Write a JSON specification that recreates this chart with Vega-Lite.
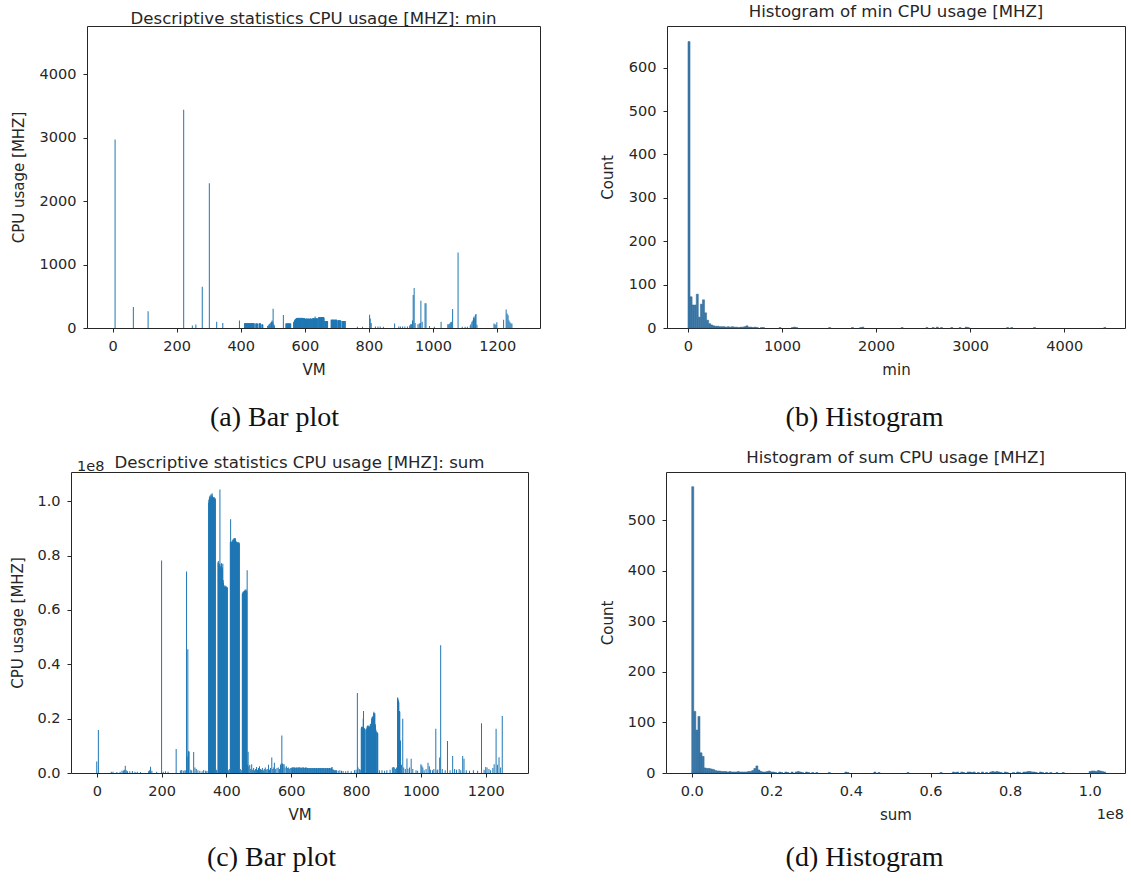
{
  "$schema": "https://vega.github.io/schema/vega-lite/v6.json",
  "background": "white",
  "padding": {"left": 10, "top": 3, "right": 2, "bottom": 2},
  "config": {
    "font": "DejaVu Sans",
    "view": {"stroke": "#262626", "strokeWidth": 1},
    "axis": {
      "domain": false, "grid": false, "tickColor": "#262626", "tickSize": 4, "tickWidth": 1,
      "labelFont": "DejaVu Sans", "labelFontSize": 14.5, "labelColor": "#262626", "labelPadding": 7,
      "titleFont": "DejaVu Sans", "titleFontSize": 15, "titleFontWeight": "normal", "titleColor": "#262626",
      "labelOverlap": false, "labelFlush": false
    },
    "title": {"font": "DejaVu Sans", "fontSize": 16.6, "fontWeight": "normal", "color": "#262626", "anchor": "middle", "frame": "group"}
  },
  "datasets": {
    "amin": [
      {"vm":8,"v":2970},{"vm":65,"v":330},{"vm":111,"v":265},{"vm":222,"v":3440},{"vm":249,"v":40},{"vm":260,"v":55},{"vm":280,"v":650},{"vm":302,"v":2280},{"vm":325,"v":100},{"vm":344,"v":80},{"vm":396,"v":120},
      {"vm":412,"v":75},{"vm":413,"v":74},{"vm":414,"v":76},{"vm":415,"v":75},{"vm":416,"v":73},{"vm":417,"v":75},{"vm":418,"v":76},{"vm":419,"v":74},{"vm":420,"v":75},{"vm":421,"v":75},{"vm":422,"v":72},{"vm":423,"v":75},{"vm":424,"v":76},{"vm":425,"v":75},{"vm":426,"v":74},{"vm":427,"v":75},{"vm":428,"v":75},{"vm":429,"v":73},{"vm":430,"v":76},{"vm":431,"v":75},{"vm":432,"v":74},{"vm":433,"v":75},{"vm":434,"v":75},{"vm":435,"v":76},{"vm":436,"v":74},{"vm":437,"v":75},{"vm":438,"v":73},{"vm":439,"v":75},{"vm":440,"v":76},{"vm":441,"v":75},{"vm":442,"v":74},
      {"vm":447,"v":70},{"vm":448,"v":70},{"vm":449,"v":72},{"vm":450,"v":70},{"vm":451,"v":68},{"vm":452,"v":70},
      {"vm":457,"v":72},{"vm":458,"v":72},{"vm":459,"v":74},{"vm":460,"v":72},{"vm":461,"v":70},{"vm":462,"v":72},
      {"vm":466,"v":55},{"vm":467,"v":58},{"vm":468,"v":55},{"vm":469,"v":52},
      {"vm":484,"v":30},{"vm":486,"v":40},{"vm":488,"v":55},{"vm":490,"v":60},{"vm":492,"v":75},{"vm":494,"v":85},{"vm":496,"v":100},{"vm":498,"v":120},{"vm":500,"v":95},{"vm":501,"v":305},{"vm":503,"v":60},{"vm":505,"v":40},
      {"vm":533,"v":205},
      {"vm":541,"v":70},{"vm":542,"v":70},{"vm":543,"v":72},{"vm":544,"v":70},{"vm":545,"v":68},{"vm":546,"v":70},{"vm":547,"v":70},{"vm":548,"v":72},{"vm":549,"v":70},{"vm":550,"v":70},{"vm":551,"v":68},{"vm":552,"v":70},{"vm":553,"v":72},{"vm":554,"v":70},{"vm":555,"v":70},{"vm":556,"v":68},
      {"vm":565,"v":90},{"vm":566,"v":95},{"vm":567,"v":110},{"vm":568,"v":120},{"vm":569,"v":130},{"vm":570,"v":135},{"vm":571,"v":140},{"vm":572,"v":145},
      {"vm":573,"v":150},{"vm":574,"v":155},{"vm":575,"v":158},{"vm":576,"v":152},{"vm":577,"v":150},{"vm":578,"v":160},{"vm":579,"v":155},{"vm":580,"v":150},{"vm":581,"v":158},{"vm":582,"v":162},{"vm":583,"v":155},{"vm":584,"v":150},{"vm":585,"v":148},{"vm":586,"v":155},{"vm":587,"v":160},{"vm":588,"v":158},{"vm":589,"v":150},{"vm":590,"v":152},{"vm":591,"v":155},{"vm":592,"v":160},{"vm":593,"v":150},{"vm":594,"v":148},{"vm":595,"v":152},{"vm":596,"v":155},{"vm":597,"v":158},{"vm":598,"v":150},{"vm":599,"v":155},{"vm":600,"v":150},
      {"vm":602,"v":145},{"vm":603,"v":142},{"vm":604,"v":145},{"vm":605,"v":148},{"vm":606,"v":145},{"vm":607,"v":140},{"vm":608,"v":145},{"vm":609,"v":145},{"vm":610,"v":148},{"vm":611,"v":145},{"vm":612,"v":142},{"vm":613,"v":145},{"vm":614,"v":145},{"vm":615,"v":140},{"vm":616,"v":145},{"vm":617,"v":148},{"vm":618,"v":145},{"vm":619,"v":145},{"vm":620,"v":142},{"vm":621,"v":145},{"vm":622,"v":145},
      {"vm":624,"v":150},{"vm":625,"v":150},{"vm":626,"v":152},{"vm":627,"v":148},{"vm":628,"v":150},{"vm":629,"v":150},{"vm":630,"v":155},{"vm":631,"v":150},{"vm":632,"v":180},{"vm":633,"v":150},{"vm":634,"v":148},{"vm":635,"v":150},{"vm":636,"v":152},{"vm":637,"v":150},{"vm":638,"v":150},{"vm":639,"v":148},{"vm":640,"v":150},
      {"vm":643,"v":170},{"vm":644,"v":165},{"vm":645,"v":172},{"vm":646,"v":168},{"vm":647,"v":175},{"vm":648,"v":170},{"vm":649,"v":165},{"vm":650,"v":170},{"vm":651,"v":168},{"vm":652,"v":172},{"vm":653,"v":170},{"vm":654,"v":165},{"vm":655,"v":170},{"vm":656,"v":172},{"vm":657,"v":168},{"vm":658,"v":170},{"vm":659,"v":165},{"vm":660,"v":160},
      {"vm":662,"v":110},{"vm":663,"v":112},{"vm":664,"v":110},{"vm":665,"v":108},{"vm":666,"v":110},{"vm":667,"v":112},{"vm":668,"v":110},{"vm":669,"v":110},{"vm":670,"v":108},{"vm":671,"v":110},
      {"vm":682,"v":130},{"vm":683,"v":130},{"vm":684,"v":132},{"vm":685,"v":128},{"vm":686,"v":130},{"vm":687,"v":130},{"vm":688,"v":132},{"vm":689,"v":130},{"vm":690,"v":128},{"vm":691,"v":130},{"vm":692,"v":130},{"vm":693,"v":132},{"vm":694,"v":130},{"vm":695,"v":128},{"vm":696,"v":130},{"vm":697,"v":130},{"vm":698,"v":132},{"vm":699,"v":130},{"vm":700,"v":128},
      {"vm":703,"v":120},{"vm":704,"v":120},{"vm":705,"v":122},{"vm":706,"v":118},{"vm":707,"v":120},{"vm":708,"v":120},{"vm":709,"v":122},{"vm":710,"v":120},{"vm":711,"v":118},{"vm":712,"v":120},
      {"vm":716,"v":110},{"vm":717,"v":110},{"vm":718,"v":112},{"vm":719,"v":108},{"vm":720,"v":110},{"vm":721,"v":110},{"vm":722,"v":112},{"vm":723,"v":110},{"vm":724,"v":108},{"vm":725,"v":110},{"vm":726,"v":110},
      {"vm":764,"v":20},{"vm":780,"v":20},{"vm":802,"v":210},{"vm":804,"v":150},{"vm":807,"v":80},{"vm":820,"v":25},{"vm":828,"v":25},{"vm":835,"v":25},{"vm":845,"v":20},
      {"vm":880,"v":70},{"vm":893,"v":25},{"vm":898,"v":25},{"vm":905,"v":25},{"vm":912,"v":25},{"vm":920,"v":25},{"vm":927,"v":40},{"vm":930,"v":60},{"vm":933,"v":60},{"vm":936,"v":120},{"vm":938,"v":520},{"vm":941,"v":630},{"vm":944,"v":80},
      {"vm":953,"v":60},{"vm":957,"v":70},{"vm":960,"v":80},{"vm":962,"v":430},{"vm":966,"v":100},{"vm":975,"v":390},{"vm":978,"v":390},{"vm":989,"v":30},{"vm":1004,"v":20},{"vm":1025,"v":100},
      {"vm":1046,"v":60},{"vm":1049,"v":60},{"vm":1052,"v":70},{"vm":1055,"v":90},{"vm":1058,"v":100},{"vm":1061,"v":300},{"vm":1078,"v":1190},{"vm":1091,"v":20},{"vm":1100,"v":20},{"vm":1107,"v":20},
      {"vm":1116,"v":40},{"vm":1118,"v":60},{"vm":1121,"v":100},{"vm":1124,"v":120},{"vm":1126,"v":160},{"vm":1128,"v":180},{"vm":1130,"v":150},{"vm":1132,"v":210},{"vm":1134,"v":220},{"vm":1137,"v":50},
      {"vm":1190,"v":70},{"vm":1193,"v":60},{"vm":1196,"v":50},{"vm":1199,"v":90},{"vm":1220,"v":130},{"vm":1228,"v":290},{"vm":1231,"v":230},{"vm":1234,"v":200},{"vm":1237,"v":120},{"vm":1240,"v":90},{"vm":1243,"v":70},{"vm":1246,"v":70}
    ],
    "csum": [
      {"vm":0,"v":4200000},{"vm":5,"v":15800000},{"vm":45,"v":500000},{"vm":50,"v":500000},{"vm":62,"v":400000},{"vm":72,"v":500000},{"vm":78,"v":800000},{"vm":82,"v":900000},{"vm":85,"v":1200000},{"vm":88,"v":2700000},{"vm":91,"v":1000000},{"vm":95,"v":600000},{"vm":102,"v":600000},{"vm":110,"v":700000},{"vm":118,"v":500000},{"vm":125,"v":500000},{"vm":135,"v":400000},{"vm":160,"v":600000},{"vm":163,"v":1000000},{"vm":166,"v":2300000},{"vm":170,"v":800000},{"vm":185,"v":500000},
      {"vm":200,"v":78200000},{"vm":205,"v":500000},{"vm":212,"v":600000},{"vm":220,"v":500000},{"vm":245,"v":8800000},{"vm":258,"v":900000},{"vm":262,"v":1100000},{"vm":267,"v":800000},{"vm":272,"v":1000000},{"vm":275,"v":900000},{"vm":277,"v":74200000},{"vm":279,"v":6000000},{"vm":281,"v":45500000},{"vm":283,"v":8000000},{"vm":285,"v":7900000},{"vm":290,"v":1200000},{"vm":293,"v":900000},{"vm":299,"v":7700000},{"vm":303,"v":2000000},{"vm":307,"v":1500000},{"vm":312,"v":1000000},{"vm":318,"v":800000},{"vm":325,"v":600000},{"vm":330,"v":1100000},{"vm":336,"v":800000},{"vm":340,"v":700000},
      {"vm":345,"v":99500000},{"vm":346,"v":100500000},{"vm":347,"v":101000000},{"vm":348,"v":101500000},{"vm":349,"v":102000000},{"vm":350,"v":101500000},{"vm":351,"v":101000000},{"vm":352,"v":102500000},{"vm":353,"v":102000000},{"vm":354,"v":101500000},{"vm":355,"v":102500000},{"vm":356,"v":103000000},{"vm":357,"v":102000000},{"vm":358,"v":101000000},{"vm":359,"v":101500000},{"vm":360,"v":101500000},{"vm":361,"v":100500000},{"vm":362,"v":101000000},{"vm":363,"v":101500000},{"vm":364,"v":101000000},{"vm":365,"v":100500000},{"vm":366,"v":101000000},
      {"vm":369,"v":1200000},{"vm":371,"v":800000},
      {"vm":374,"v":77500000},{"vm":375,"v":78000000},{"vm":376,"v":77000000},{"vm":377,"v":76000000},{"vm":378,"v":76500000},{"vm":379,"v":77000000},{"vm":380,"v":104300000},{"vm":381,"v":76000000},{"vm":382,"v":75500000},{"vm":383,"v":76000000},{"vm":384,"v":77000000},{"vm":385,"v":77200000},{"vm":386,"v":76000000},{"vm":387,"v":75500000},{"vm":388,"v":75000000},{"vm":389,"v":77000000},{"vm":390,"v":71000000},{"vm":391,"v":70000000},{"vm":392,"v":69000000},{"vm":393,"v":69000000},{"vm":394,"v":68500000},{"vm":395,"v":68500000},{"vm":396,"v":69000000},{"vm":397,"v":68500000},{"vm":398,"v":68500000},{"vm":399,"v":68800000},{"vm":400,"v":68500000},{"vm":401,"v":68000000},{"vm":402,"v":68500000},{"vm":403,"v":68200000},
      {"vm":406,"v":1000000},{"vm":409,"v":1500000},
      {"vm":412,"v":85000000},{"vm":413,"v":93400000},{"vm":414,"v":84500000},{"vm":415,"v":85000000},{"vm":416,"v":84800000},{"vm":417,"v":85200000},{"vm":418,"v":85500000},{"vm":419,"v":85000000},{"vm":420,"v":85800000},{"vm":421,"v":86000000},{"vm":422,"v":85500000},{"vm":423,"v":86200000},{"vm":424,"v":86500000},{"vm":425,"v":86000000},{"vm":426,"v":86300000},{"vm":427,"v":86500000},{"vm":428,"v":86000000},{"vm":429,"v":85500000},{"vm":430,"v":85200000},{"vm":431,"v":85000000},{"vm":432,"v":84800000},{"vm":433,"v":85000000},{"vm":434,"v":84500000},{"vm":435,"v":84800000},{"vm":436,"v":85000000},{"vm":437,"v":84500000},{"vm":438,"v":84700000},{"vm":439,"v":84800000},{"vm":440,"v":84500000},
      {"vm":443,"v":1500000},{"vm":446,"v":1000000},
      {"vm":449,"v":66000000},{"vm":450,"v":66200000},{"vm":451,"v":66500000},{"vm":452,"v":66800000},{"vm":453,"v":66500000},{"vm":454,"v":66800000},{"vm":455,"v":67000000},{"vm":456,"v":67200000},{"vm":457,"v":67000000},{"vm":458,"v":67500000},{"vm":459,"v":67200000},{"vm":460,"v":67000000},{"vm":461,"v":67500000},{"vm":462,"v":67000000},{"vm":463,"v":66800000},
      {"vm":464,"v":74600000},{"vm":465,"v":3000000},{"vm":467,"v":7800000},{"vm":469,"v":2500000},
      {"vm":472,"v":3000000},{"vm":475,"v":1500000},{"vm":478,"v":3200000},{"vm":481,"v":1200000},{"vm":484,"v":1800000},{"vm":487,"v":1000000},{"vm":490,"v":1500000},{"vm":493,"v":2200000},{"vm":496,"v":1200000},{"vm":499,"v":1800000},{"vm":502,"v":2500000},{"vm":505,"v":1500000},{"vm":508,"v":1200000},{"vm":511,"v":1800000},{"vm":514,"v":1000000},{"vm":517,"v":1500000},{"vm":520,"v":2000000},{"vm":523,"v":1200000},{"vm":526,"v":1500000},{"vm":530,"v":3000000},{"vm":533,"v":1200000},{"vm":536,"v":1800000},{"vm":540,"v":5700000},{"vm":543,"v":1500000},{"vm":546,"v":2000000},{"vm":548,"v":3800000},{"vm":552,"v":1500000},{"vm":556,"v":1800000},{"vm":560,"v":2000000},{"vm":564,"v":1500000},{"vm":567,"v":3000000},{"vm":569,"v":3500000},{"vm":571,"v":13800000},{"vm":573,"v":3500000},{"vm":575,"v":3200000},{"vm":578,"v":3200000},{"vm":581,"v":2000000},{"vm":585,"v":2500000},{"vm":588,"v":1800000},{"vm":591,"v":2000000},{"vm":594,"v":1500000},{"vm":597,"v":1800000},
      {"vm":600,"v":1800000},{"vm":602,"v":2000000},{"vm":604,"v":2000000},{"vm":606,"v":2100000},{"vm":608,"v":1900000},{"vm":610,"v":2000000},{"vm":612,"v":2000000},{"vm":614,"v":1800000},{"vm":616,"v":2000000},{"vm":618,"v":2000000},{"vm":620,"v":1900000},{"vm":622,"v":2000000},{"vm":624,"v":2100000},{"vm":626,"v":2000000},{"vm":628,"v":2000000},{"vm":630,"v":1800000},{"vm":632,"v":1900000},{"vm":634,"v":2000000},{"vm":636,"v":2000000},{"vm":638,"v":2000000},{"vm":640,"v":1900000},{"vm":642,"v":1800000},{"vm":644,"v":2000000},{"vm":646,"v":2000000},{"vm":648,"v":1900000},{"vm":650,"v":1800000},{"vm":652,"v":1700000},{"vm":654,"v":1800000},{"vm":656,"v":1800000},{"vm":658,"v":1700000},{"vm":660,"v":1800000},{"vm":662,"v":1800000},{"vm":664,"v":1700000},{"vm":666,"v":1800000},{"vm":668,"v":1800000},{"vm":670,"v":1700000},{"vm":672,"v":1800000},{"vm":674,"v":1800000},{"vm":676,"v":1700000},{"vm":678,"v":1800000},{"vm":680,"v":1800000},{"vm":682,"v":1700000},{"vm":684,"v":1800000},{"vm":686,"v":1800000},{"vm":688,"v":1800000},{"vm":690,"v":1800000},{"vm":692,"v":1700000},{"vm":694,"v":1800000},{"vm":696,"v":1800000},{"vm":698,"v":1800000},{"vm":700,"v":1800000},{"vm":702,"v":1700000},{"vm":704,"v":1800000},{"vm":706,"v":1800000},{"vm":708,"v":1700000},{"vm":710,"v":1800000},{"vm":712,"v":1800000},{"vm":714,"v":1800000},{"vm":716,"v":1700000},{"vm":718,"v":1800000},{"vm":720,"v":1800000},{"vm":722,"v":1700000},{"vm":724,"v":2000000},{"vm":726,"v":2200000},{"vm":728,"v":1500000},{"vm":730,"v":1200000},{"vm":732,"v":1000000},{"vm":734,"v":1000000},{"vm":736,"v":1000000},{"vm":738,"v":900000},{"vm":740,"v":1000000},
      {"vm":745,"v":800000},{"vm":750,"v":1000000},{"vm":755,"v":800000},{"vm":760,"v":700000},{"vm":768,"v":600000},{"vm":775,"v":800000},{"vm":785,"v":600000},{"vm":795,"v":1000000},{"vm":800,"v":1200000},
      {"vm":804,"v":29400000},{"vm":806,"v":2000000},{"vm":810,"v":1500000},{"vm":813,"v":1200000},
      {"vm":816,"v":16500000},{"vm":817,"v":17000000},{"vm":818,"v":16500000},{"vm":819,"v":16000000},{"vm":820,"v":17000000},{"vm":821,"v":16500000},{"vm":822,"v":20000000},{"vm":823,"v":22800000},{"vm":824,"v":16500000},{"vm":825,"v":16000000},{"vm":826,"v":16500000},{"vm":827,"v":16200000},{"vm":828,"v":16000000},
      {"vm":832,"v":16000000},{"vm":833,"v":16500000},{"vm":834,"v":17000000},{"vm":835,"v":17500000},{"vm":836,"v":17000000},{"vm":837,"v":16500000},{"vm":838,"v":17000000},{"vm":839,"v":17500000},{"vm":840,"v":17000000},{"vm":841,"v":16800000},{"vm":842,"v":17200000},{"vm":843,"v":17000000},{"vm":844,"v":18000000},{"vm":845,"v":17500000},{"vm":846,"v":18000000},{"vm":847,"v":18500000},
      {"vm":848,"v":20000000},{"vm":849,"v":20500000},{"vm":850,"v":20000000},{"vm":851,"v":20500000},{"vm":852,"v":21000000},{"vm":853,"v":20500000},{"vm":854,"v":22000000},{"vm":855,"v":22500000},{"vm":856,"v":22000000},{"vm":857,"v":21500000},{"vm":858,"v":22000000},
      {"vm":859,"v":18000000},{"vm":860,"v":17500000},{"vm":861,"v":16000000},{"vm":862,"v":15500000},
      {"vm":864,"v":14800000},{"vm":865,"v":15000000},{"vm":866,"v":14800000},{"vm":867,"v":14500000},
      {"vm":872,"v":1000000},{"vm":880,"v":1000000},{"vm":888,"v":800000},{"vm":895,"v":1000000},{"vm":905,"v":1200000},{"vm":912,"v":2000000},{"vm":915,"v":2200000},{"vm":918,"v":2000000},{"vm":922,"v":1500000},{"vm":925,"v":2000000},
      {"vm":928,"v":27800000},{"vm":929,"v":27500000},{"vm":930,"v":27000000},{"vm":931,"v":26500000},{"vm":932,"v":26000000},{"vm":933,"v":22500000},{"vm":934,"v":22800000},{"vm":935,"v":22500000},{"vm":937,"v":12000000},{"vm":940,"v":3000000},{"vm":944,"v":20000000},{"vm":947,"v":2000000},
      {"vm":952,"v":1500000},{"vm":957,"v":5300000},{"vm":960,"v":1600000},{"vm":965,"v":2000000},{"vm":970,"v":5200000},{"vm":975,"v":1500000},{"vm":985,"v":1000000},{"vm":990,"v":800000},
      {"vm":1000,"v":3200000},{"vm":1003,"v":2800000},{"vm":1006,"v":2000000},{"vm":1010,"v":1000000},{"vm":1016,"v":1500000},{"vm":1022,"v":3800000},{"vm":1026,"v":2500000},{"vm":1030,"v":1200000},{"vm":1036,"v":1000000},{"vm":1040,"v":1500000},{"vm":1046,"v":16300000},{"vm":1050,"v":1000000},{"vm":1052,"v":1300000},{"vm":1058,"v":5700000},{"vm":1061,"v":47000000},{"vm":1066,"v":1500000},{"vm":1075,"v":1000000},{"vm":1082,"v":11800000},{"vm":1090,"v":1000000},{"vm":1098,"v":6300000},{"vm":1104,"v":1500000},{"vm":1110,"v":1200000},{"vm":1118,"v":1500000},{"vm":1123,"v":1000000},{"vm":1129,"v":6300000},{"vm":1133,"v":5200000},{"vm":1140,"v":1000000},{"vm":1150,"v":800000},{"vm":1162,"v":1000000},{"vm":1175,"v":800000},{"vm":1187,"v":18300000},{"vm":1195,"v":1200000},{"vm":1200,"v":2200000},{"vm":1204,"v":2000000},{"vm":1210,"v":1500000},{"vm":1215,"v":1000000},{"vm":1222,"v":1800000},{"vm":1226,"v":3200000},{"vm":1232,"v":16300000},{"vm":1236,"v":3000000},{"vm":1241,"v":5800000},{"vm":1246,"v":2000000},{"vm":1251,"v":21000000}
    ],
    "minhist": [
      {"lo":0,"hi":22,"n":660},{"lo":22,"hi":44,"n":72},{"lo":44,"hi":66,"n":53},{"lo":66,"hi":88,"n":53},{"lo":88,"hi":110,"n":78},{"lo":110,"hi":132,"n":25},{"lo":132,"hi":154,"n":55},{"lo":154,"hi":176,"n":65},{"lo":176,"hi":198,"n":35},{"lo":198,"hi":220,"n":18},
      {"lo":220,"hi":242,"n":10},{"lo":242,"hi":264,"n":7},{"lo":264,"hi":286,"n":5},{"lo":286,"hi":308,"n":4},{"lo":308,"hi":330,"n":4},{"lo":330,"hi":352,"n":3},{"lo":352,"hi":374,"n":3},{"lo":374,"hi":396,"n":3},{"lo":396,"hi":418,"n":2},{"lo":418,"hi":440,"n":3},
      {"lo":440,"hi":462,"n":2},{"lo":462,"hi":484,"n":3},{"lo":484,"hi":506,"n":2},{"lo":506,"hi":528,"n":2},{"lo":528,"hi":550,"n":1},{"lo":550,"hi":572,"n":2},{"lo":572,"hi":594,"n":2},{"lo":594,"hi":616,"n":3},{"lo":616,"hi":638,"n":5},{"lo":638,"hi":660,"n":2},
      {"lo":660,"hi":682,"n":2},{"lo":682,"hi":704,"n":1},{"lo":704,"hi":726,"n":2},{"lo":726,"hi":748,"n":1},{"lo":770,"hi":792,"n":1},{"lo":792,"hi":814,"n":1},{"lo":968,"hi":990,"n":1},{"lo":1100,"hi":1122,"n":1},{"lo":1122,"hi":1144,"n":2},{"lo":1144,"hi":1166,"n":1},
      {"lo":1496,"hi":1518,"n":1},{"lo":1738,"hi":1760,"n":1},{"lo":1826,"hi":1848,"n":1},{"lo":1848,"hi":1870,"n":2},{"lo":2266,"hi":2288,"n":1},{"lo":2530,"hi":2552,"n":1},{"lo":2596,"hi":2618,"n":1},{"lo":2640,"hi":2662,"n":2},{"lo":2684,"hi":2706,"n":1},{"lo":2794,"hi":2816,"n":1},
      {"lo":2882,"hi":2904,"n":1},{"lo":2948,"hi":2970,"n":2},{"lo":2970,"hi":2992,"n":1},{"lo":3388,"hi":3410,"n":1},{"lo":3432,"hi":3454,"n":1},{"lo":3674,"hi":3696,"n":1},{"lo":4422,"hi":4444,"n":1}
    ],
    "sumhist": [
      {"lo":0,"hi":520000,"n":567},{"lo":520000,"hi":1040000,"n":122},{"lo":1040000,"hi":1560000,"n":85},{"lo":1560000,"hi":2080000,"n":112},{"lo":2080000,"hi":2600000,"n":40},{"lo":2600000,"hi":3120000,"n":33},{"lo":3120000,"hi":3640000,"n":10},{"lo":3640000,"hi":4160000,"n":9},{"lo":4160000,"hi":4680000,"n":9},{"lo":4680000,"hi":5200000,"n":8},
      {"lo":5200000,"hi":5720000,"n":7},{"lo":5720000,"hi":6240000,"n":5},{"lo":6240000,"hi":6760000,"n":4},{"lo":6760000,"hi":7280000,"n":4},{"lo":7280000,"hi":7800000,"n":3},{"lo":7800000,"hi":8320000,"n":3},{"lo":8320000,"hi":8840000,"n":3},{"lo":8840000,"hi":9360000,"n":2},{"lo":9360000,"hi":9880000,"n":3},{"lo":9880000,"hi":10400000,"n":2},
      {"lo":10400000,"hi":10920000,"n":2},{"lo":10920000,"hi":11440000,"n":2},{"lo":11440000,"hi":11960000,"n":3},{"lo":11960000,"hi":12480000,"n":2},{"lo":12480000,"hi":13000000,"n":2},{"lo":13000000,"hi":13520000,"n":2},{"lo":13520000,"hi":14040000,"n":2},{"lo":14040000,"hi":14560000,"n":3},{"lo":14560000,"hi":15080000,"n":3},{"lo":15080000,"hi":15600000,"n":5},
      {"lo":15600000,"hi":16120000,"n":9},{"lo":16120000,"hi":16640000,"n":14},{"lo":16640000,"hi":17160000,"n":6},{"lo":17160000,"hi":17680000,"n":3},{"lo":17680000,"hi":18200000,"n":2},{"lo":18200000,"hi":18720000,"n":2},{"lo":18720000,"hi":19240000,"n":3},{"lo":19240000,"hi":19760000,"n":4},{"lo":19760000,"hi":20280000,"n":2},{"lo":20280000,"hi":20800000,"n":2},
      {"lo":20800000,"hi":21320000,"n":1},{"lo":21840000,"hi":22360000,"n":2},{"lo":22360000,"hi":22880000,"n":1},{"lo":23400000,"hi":23920000,"n":2},{"lo":23920000,"hi":24440000,"n":1},{"lo":24960000,"hi":25480000,"n":2},{"lo":26000000,"hi":26520000,"n":2},{"lo":26520000,"hi":27040000,"n":3},{"lo":27040000,"hi":27560000,"n":2},{"lo":27560000,"hi":28080000,"n":1},
      {"lo":28600000,"hi":29120000,"n":2},{"lo":29120000,"hi":29640000,"n":1},{"lo":30160000,"hi":30680000,"n":1},{"lo":31200000,"hi":31720000,"n":1},{"lo":34320000,"hi":34840000,"n":1},{"lo":38480000,"hi":39000000,"n":2},{"lo":39000000,"hi":39520000,"n":1},{"lo":45760000,"hi":46280000,"n":2},{"lo":46800000,"hi":47320000,"n":1},{"lo":54080000,"hi":54600000,"n":1},
      {"lo":62400000,"hi":62920000,"n":1},{"lo":65520000,"hi":66040000,"n":2},{"lo":66040000,"hi":66560000,"n":1},{"lo":66560000,"hi":67080000,"n":2},{"lo":67600000,"hi":68120000,"n":2},{"lo":68120000,"hi":68640000,"n":1},{"lo":69160000,"hi":69680000,"n":2},{"lo":69680000,"hi":70200000,"n":2},{"lo":70200000,"hi":70720000,"n":1},{"lo":70720000,"hi":71240000,"n":2},
      {"lo":71760000,"hi":72280000,"n":1},{"lo":72800000,"hi":73320000,"n":2},{"lo":73840000,"hi":74360000,"n":1},{"lo":74880000,"hi":75400000,"n":2},{"lo":75400000,"hi":75920000,"n":3},{"lo":75920000,"hi":76440000,"n":2},{"lo":76440000,"hi":76960000,"n":3},{"lo":76960000,"hi":77480000,"n":2},{"lo":77480000,"hi":78000000,"n":1},{"lo":78520000,"hi":79040000,"n":2},
      {"lo":79040000,"hi":79560000,"n":1},{"lo":80600000,"hi":81120000,"n":1},{"lo":81640000,"hi":82160000,"n":2},{"lo":82160000,"hi":82680000,"n":1},{"lo":83200000,"hi":83720000,"n":2},{"lo":83720000,"hi":84240000,"n":2},{"lo":84240000,"hi":84760000,"n":3},{"lo":84760000,"hi":85280000,"n":3},{"lo":85280000,"hi":85800000,"n":2},{"lo":85800000,"hi":86320000,"n":2},
      {"lo":86320000,"hi":86840000,"n":1},{"lo":87360000,"hi":87880000,"n":2},{"lo":87880000,"hi":88400000,"n":1},{"lo":88920000,"hi":89440000,"n":1},{"lo":89960000,"hi":90480000,"n":1},{"lo":91520000,"hi":92040000,"n":1},{"lo":93080000,"hi":93600000,"n":1},
      {"lo":99840000,"hi":100360000,"n":3},{"lo":100360000,"hi":100880000,"n":4},{"lo":100880000,"hi":101400000,"n":4},{"lo":101400000,"hi":101920000,"n":3},{"lo":101920000,"hi":102440000,"n":5},{"lo":102440000,"hi":102960000,"n":4},{"lo":102960000,"hi":103480000,"n":3},{"lo":103480000,"hi":104000000,"n":2}
    ]
  },
  "spacing": 17,
  "vconcat": [
    {
      "bounds": "flush",
      "spacing": 5,
      "hconcat": [
        {"width": 11, "height": 10, "view": {"stroke": null}, "data": {"values": []}, "mark": "point", "encoding": {}},
        {
          "width": 453, "height": 302,
          "title": {"text": "Descriptive statistics CPU usage [MHZ]: min", "offset": -2},
          "resolve": {"axis": {"x": "independent"}},
          "layer": [
            {
              "data": {"name": "amin"},
              "mark": {"type": "bar", "width": 1, "color": "#1f77b4"},
              "encoding": {
                "x": {"field": "vm", "type": "quantitative", "scale": {"domain": [-64, 1318], "nice": false, "zero": false},
                      "axis": {"orient": "bottom", "title": "VM", "format": "d", "values": [0, 200, 400, 600, 800, 1000, 1200], "titlePadding": 10}},
                "y": {"field": "v", "type": "quantitative", "scale": {"domain": [0, 4761], "nice": false},
                      "axis": {"title": "CPU usage [MHZ]", "format": "d", "values": [0, 1000, 2000, 3000, 4000], "titlePadding": 13}}
              }
            },
            {
              "data": {"values": []},
              "mark": "point",
              "encoding": {
                "x": {"field": "vm", "type": "quantitative",
                      "axis": {"orient": "bottom", "offset": 75, "domain": false, "ticks": false, "labels": false, "title": "(a) Bar plot",
                               "titleFont": "Liberation Serif", "titleFontSize": 28, "titleColor": "#111111", "titlePadding": 0, "titleX": 187, "titleAlign": "center", "titleBaseline": "top"}}
              }
            }
          ]
        },
        {"width": 117, "height": 10, "view": {"stroke": null}, "data": {"values": []}, "mark": "point", "encoding": {}},
        {
          "width": 458, "height": 302,
          "title": {"text": "Histogram of min CPU usage [MHZ]", "offset": 5},
          "resolve": {"axis": {"x": "independent"}},
          "layer": [
            {
              "data": {"name": "minhist"},
              "mark": {"type": "bar", "color": "#3b78a8", "stroke": "#2f6a99", "strokeWidth": 0.5},
              "encoding": {
                "x": {"field": "lo", "type": "quantitative", "scale": {"domain": [-223, 4647], "nice": false, "zero": false},
                      "axis": {"orient": "bottom", "title": "min", "format": "d", "values": [0, 1000, 2000, 3000, 4000], "titlePadding": 10}},
                "x2": {"field": "hi"},
                "y": {"field": "n", "type": "quantitative", "scale": {"domain": [0, 696], "nice": false},
                      "axis": {"title": "Count", "format": "d", "values": [0, 100, 200, 300, 400, 500, 600], "titlePadding": 13}},
                "y2": {"datum": 0}
              }
            },
            {
              "data": {"values": []},
              "mark": "point",
              "encoding": {
                "x": {"field": "lo", "type": "quantitative",
                      "axis": {"orient": "bottom", "offset": 75, "domain": false, "ticks": false, "labels": false, "title": "(b) Histogram",
                               "titleFont": "Liberation Serif", "titleFontSize": 28, "titleColor": "#111111", "titlePadding": 0, "titleX": 197, "titleAlign": "center", "titleBaseline": "top"}}
              }
            }
          ]
        }
      ]
    },
    {
      "bounds": "flush",
      "spacing": 138,
      "hconcat": [
        {
          "width": 457, "height": 301,
          "title": {"text": "Descriptive statistics CPU usage [MHZ]: sum", "offset": -13},
          "resolve": {"axis": {"x": "independent", "y": "independent"}},
          "layer": [
            {
              "data": {"name": "csum"},
              "mark": {"type": "bar", "width": 1, "color": "#1f77b4"},
              "encoding": {
                "x": {"field": "vm", "type": "quantitative", "scale": {"domain": [-64, 1315], "nice": false, "zero": false},
                      "axis": {"orient": "bottom", "title": "VM", "format": "d", "values": [0, 200, 400, 600, 800, 1000, 1200], "titlePadding": 10}},
                "y": {"field": "v", "type": "quantitative", "scale": {"domain": [0, 110780000], "nice": false},
                      "axis": {"title": "CPU usage [MHZ]", "values": [0, 20000000, 40000000, 60000000, 80000000, 100000000],
                               "labelExpr": "format(datum.value / 1e8, '.1f')", "titlePadding": 11}}
              }
            },
            {
              "data": {"values": [{"t": "1e8"}]},
              "mark": {"type": "text", "align": "left", "baseline": "alphabetic", "dx": 1, "dy": -1, "fontSize": 14.5, "color": "#262626"},
              "encoding": {
                "x": {"datum": -64, "type": "quantitative", "axis": null},
                "y": {"datum": 110780000, "type": "quantitative", "axis": null},
                "text": {"field": "t"}
              }
            },
            {
              "data": {"values": []},
              "mark": "point",
              "encoding": {
                "x": {"field": "vm", "type": "quantitative",
                      "axis": {"orient": "bottom", "offset": 70, "domain": false, "ticks": false, "labels": false, "title": "(c) Bar plot",
                               "titleFont": "Liberation Serif", "titleFontSize": 28, "titleColor": "#111111", "titlePadding": 0, "titleX": 200, "titleAlign": "center", "titleBaseline": "top"}}
              }
            }
          ]
        },
        {
          "width": 459, "height": 301,
          "title": {"text": "Histogram of sum CPU usage [MHZ]", "offset": 5},
          "resolve": {"axis": {"x": "independent", "y": "independent"}},
          "layer": [
            {
              "data": {"name": "sumhist"},
              "mark": {"type": "bar", "color": "#3b78a8", "stroke": "#2f6a99", "strokeWidth": 0.5},
              "encoding": {
                "x": {"field": "lo", "type": "quantitative", "scale": {"domain": [-6460000, 108870000], "nice": false, "zero": false},
                      "axis": {"orient": "bottom", "title": "sum", "values": [0, 20000000, 40000000, 60000000, 80000000, 100000000],
                               "labelExpr": "format(datum.value / 1e8, '.1f')", "titlePadding": 10}},
                "x2": {"field": "hi"},
                "y": {"field": "n", "type": "quantitative", "scale": {"domain": [0, 596], "nice": false},
                      "axis": {"title": "Count", "format": "d", "values": [0, 100, 200, 300, 400, 500], "titlePadding": 12}},
                "y2": {"datum": 0}
              }
            },
            {
              "data": {"values": [{"t": "1e8"}]},
              "mark": {"type": "text", "align": "right", "baseline": "top", "dx": -1, "dy": 35, "fontSize": 14.5, "color": "#262626"},
              "encoding": {
                "x": {"datum": 108870000, "type": "quantitative", "axis": null},
                "y": {"datum": 0, "type": "quantitative", "axis": null},
                "text": {"field": "t"}
              }
            },
            {
              "data": {"values": []},
              "mark": "point",
              "encoding": {
                "x": {"field": "lo", "type": "quantitative",
                      "axis": {"orient": "bottom", "offset": 70, "domain": false, "ticks": false, "labels": false, "title": "(d) Histogram",
                               "titleFont": "Liberation Serif", "titleFontSize": 28, "titleColor": "#111111", "titlePadding": 0, "titleX": 198, "titleAlign": "center", "titleBaseline": "top"}}
              }
            }
          ]
        }
      ]
    }
  ]
}
